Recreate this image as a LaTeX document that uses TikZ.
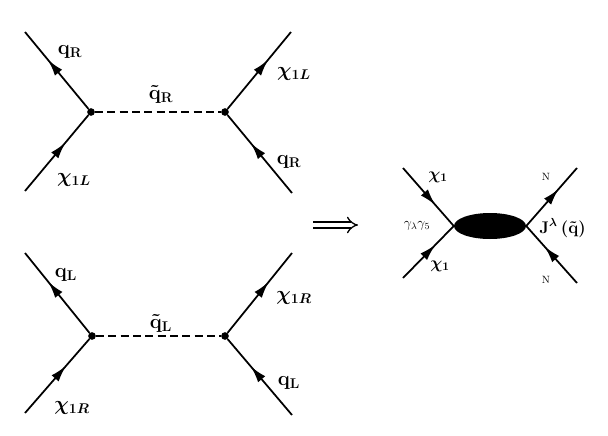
\documentclass[tikz,border=0pt]{standalone}
\usetikzlibrary{positioning,arrows.meta,decorations.markings,shapes.geometric}
\usepackage{amsmath}
\usepackage{amsfonts}

\begin{document}
\begin{tikzpicture}[x=0.3mm,y=-0.3mm,
    fermion/.style={line width=1.5pt,postaction={decorate},
      decoration={markings,mark=at position 0.64 with {\arrow{Latex[length=5mm,width=2.8mm]}}}},
    scalar/.style={line width=1.4pt,dash pattern=on 2.4mm off 1.3mm},
    vtx/.style={circle,fill,inner sep=0pt,minimum size=2.3mm},
    blob/.style={ellipse,fill,inner sep=0pt,minimum width=21.6mm,minimum height=7.8mm},
    lbl/.style={font=\LARGE\boldmath}]
    \useasboundingbox (0,0) rectangle (608,436);

    \node[vtx] (ra) at (91,112) {};
    \node[vtx] (rb) at (225,112) {};
    \coordinate (ra1) at (25,32);
    \coordinate (ra2) at (25,191);
    \coordinate (rb1) at (291,32);
    \coordinate (rb2) at (292,193);
    \draw[fermion] (ra) -- (ra1);
    \draw[fermion] (ra2) -- (ra);
    \draw[fermion] (rb) -- (rb1);
    \draw[fermion] (rb2) -- (rb);
    \draw[scalar] (ra) -- (rb);
    \node[lbl] (lqr) at (70,52) {$\mathbf{q}_{\mathbf{R}}$};
    \node[lbl] (lxr) at (74,180) {$\chi_{1L}$};
    \node[lbl] (lsr) at (161,94) {$\tilde{\mathbf{q}}_{\mathbf{R}}$};
    \node[lbl] (lxr2) at (294,74) {$\chi_{1L}$};
    \node[lbl] (lqr2) at (289,162) {$\mathbf{q}_{\mathbf{R}}$};

    \node[vtx] (la) at (92,336) {};
    \node[vtx] (lb) at (225,336) {};
    \coordinate (la1) at (25,253);
    \coordinate (la2) at (25,413);
    \coordinate (lb1) at (292,253);
    \coordinate (lb2) at (292,415);
    \draw[fermion] (la) -- (la1);
    \draw[fermion] (la2) -- (la);
    \draw[fermion] (lb) -- (lb1);
    \draw[fermion] (lb2) -- (lb);
    \draw[scalar] (la) -- (lb);
    \node[lbl] (lql) at (66,275) {$\mathbf{q}_{\mathbf{L}}$};
    \node[lbl] (lxl) at (72,408) {$\chi_{1R}$};
    \node[lbl] (lsl) at (161,323) {$\tilde{\mathbf{q}}_{\mathbf{L}}$};
    \node[lbl] (lxl2) at (294,298) {$\chi_{1R}$};
    \node[lbl] (lql2) at (289,383) {$\mathbf{q}_{\mathbf{L}}$};

    \coordinate (ia) at (313,225);
    \coordinate (ib) at (358,225);
    \draw[line width=1.1pt,double,double distance=3.8pt,-{Implies}] (ia) -- (ib);

    \node[blob] (bl) at (490,226) {};
    \coordinate (ea1) at (403,168);
    \coordinate (ea2) at (403,278);
    \coordinate (eb1) at (577,168);
    \coordinate (eb2) at (577,283);
    \draw[fermion] (ea1) -- (bl.west);
    \draw[fermion] (ea2) -- (bl.west);
    \draw[fermion] (bl.east) -- (eb1);
    \draw[fermion] (eb2) -- (bl.east);
    \node[font=\Large\boldmath] (lx1) at (438,177) {$\chi_1$};
    \node[font=\Large\boldmath] (lx2) at (440,266) {$\chi_1$};
    \node[font=\large] (lg) at (417,226) {$\gamma_\lambda\gamma_5$};
    \node[font=\small] (ln1) at (546,177) {N};
    \node[font=\small] (ln2) at (546,280) {N};
    \node[font=\Large\boldmath,anchor=west,inner sep=1pt] (lj) at (538,228) {$\mathbf{J}^{\lambda}\,(\tilde{\mathbf{q}})$};
\end{tikzpicture}
\end{document}
